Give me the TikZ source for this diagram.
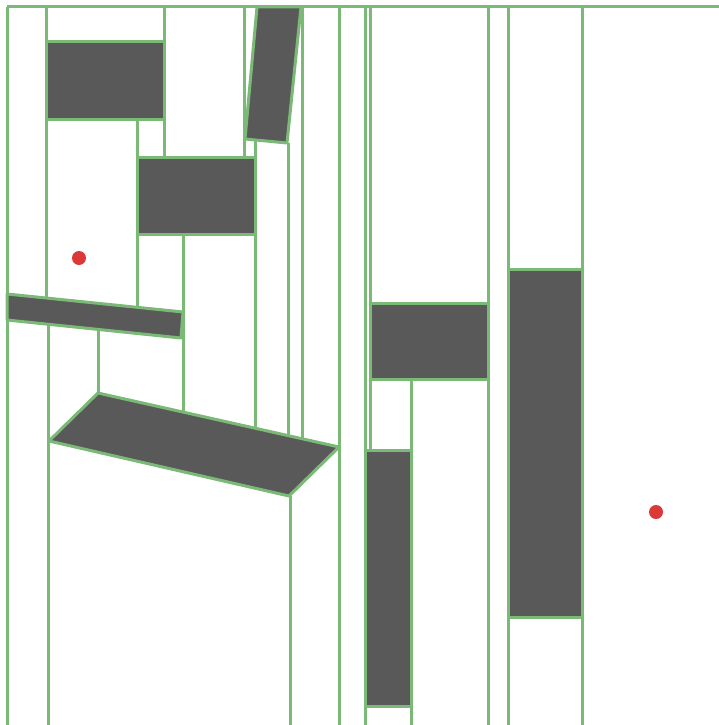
\documentclass[tikz,border=0pt]{standalone}
\usepackage{tikz}

\definecolor{cutgreen}{RGB}{122,186,118}
\definecolor{obsgray}{RGB}{89,89,89}
\definecolor{dotred}{RGB}{221,56,56}

\begin{document}
\begin{tikzpicture}[
    x=1pt, y=-1pt,
    cut/.style={draw=cutgreen, line width=3pt},
    obstacle/.style={draw=cutgreen, fill=obsgray, line width=3pt, line join=round},
    goal/.style={circle, fill=dotred, inner sep=0pt, minimum size=14pt}
]
\useasboundingbox (0,0) rectangle (719,725);
% border and vertical cuts
\draw [cut] (7,7)--(719,7);
\foreach \x/\ya/\yb in {7.5/7/725, 46.5/7/298, 48.5/324/725, 98/329/393,
    137/119/307, 164/7/157, 183/234/412, 244/7/157, 255/141/428,
    288/143/436, 302/7/439, 339/7/725, 290/496/725, 365/7/725,
    370.5/7/450, 411.5/379/725, 488/7/725, 508/7/725, 582/7/725}
    \draw [cut] (\x,\ya)--(\x,\yb);
% obstacles
\draw [obstacle] (46.5,42) rectangle (164,119);
\draw [obstacle] (137,157) rectangle (255,234);
\draw [obstacle] (257,7)--(301,7)--(287,143)--(245,139)--cycle;
\draw [obstacle] (7,294)--(183,312)--(181,338)--(7,320)--cycle;
\draw [obstacle] (98,393)--(339,447)--(289,496)--(49,441)--cycle;
\draw [obstacle] (370.5,303) rectangle (488,379);
\draw [obstacle] (365,450) rectangle (411.5,706);
\draw [obstacle] (508,269) rectangle (582,617);
% sample points
\node (start) [goal] at (79,258) {};
\node (target) [goal] at (656,512) {};
\end{tikzpicture}
\end{document}
